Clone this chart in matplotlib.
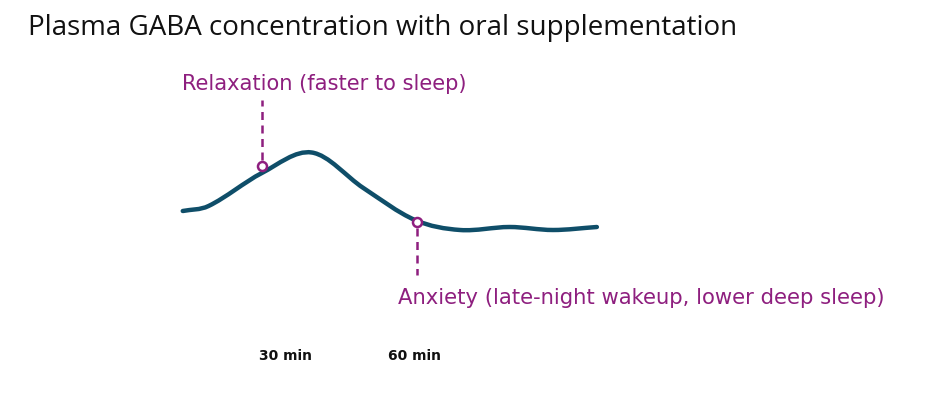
import matplotlib
matplotlib.use("Agg")
import matplotlib.pyplot as plt
from matplotlib.path import Path
from matplotlib.patches import PathPatch
import numpy as np

# Data (time in minutes, relative plasma GABA level)
time_min = [6.0, 12.0, 24.4, 36.0, 48.0, 60.0, 70.5, 82.0, 92.1, 102.3]
gaba_level = [4.9, 5.4, 8.7, 10.75, 7.2, 4.0, 3.0, 3.3, 3.0, 3.3]
tick_positions = [30, 60]
tick_labels = ["30 min", "60 min"]
relax_time, relax_level = 24.4, 9.4
anx_time, anx_level = 60.5, 3.8
title = "Plasma GABA concentration with oral supplementation"
relax_label = "Relaxation (faster to sleep)"
anx_label = "Anxiety (late-night wakeup, lower deep sleep)"

LINE = "#0f4e69"
PURPLE = "#8e1f7f"

fig = plt.figure(figsize=(9.37, 3.93), dpi=100)
ax = fig.add_axes([0, 0, 1, 1])
ax.set_xlim(-36.5, 181.4)
ax.set_ylim(-13.3, 26)
ax.axis("off")

# smooth curve through read points (cubic Hermite in x -> Bezier segments)
x = np.asarray(time_min, float)
y = np.asarray(gaba_level, float)
n = len(x)
m = np.empty(n)
m[0] = (y[1] - y[0]) / (x[1] - x[0])
m[-1] = (y[-1] - y[-2]) / (x[-1] - x[-2])
for i in range(1, n - 1):
    m[i] = (y[i + 1] - y[i - 1]) / (x[i + 1] - x[i - 1])
verts = [(x[0], y[0])]
codes = [Path.MOVETO]
for i in range(n - 1):
    d = (x[i + 1] - x[i]) / 3
    verts += [(x[i] + d, y[i] + m[i] * d), (x[i + 1] - d, y[i + 1] - m[i + 1] * d),
              (x[i + 1], y[i + 1])]
    codes += [Path.CURVE4] * 3
ax.add_patch(PathPatch(Path(verts, codes), facecolor="none", edgecolor=LINE,
                       lw=3.2, capstyle="round", joinstyle="round", zorder=2))

# annotation lines
ax.plot([relax_time, relax_time], [relax_level + 0.6, 16.0], color=PURPLE,
        lw=1.8, ls=(0, (3.2, 2.2)), zorder=1)
ax.plot([anx_time, anx_time], [anx_level - 0.6, -1.5], color=PURPLE,
        lw=1.8, ls=(0, (3.2, 2.2)), zorder=1)
ax.plot([relax_time, anx_time], [relax_level, anx_level], ls="none",
        marker="o", ms=6.5, mfc="white", mec=PURPLE, mew=1.8, zorder=3)

ax.text(5.8, 17.6, relax_label, color=PURPLE, fontsize=15.1, family="DejaVu Sans",
        va="center", ha="left")
ax.text(56.0, -3.8, anx_label, color=PURPLE, fontsize=15.2, family="DejaVu Sans",
        va="center", ha="left")

for t, lab in zip(tick_positions, tick_labels):
    ax.text(t, -9.6, lab, ha="center", va="center", fontsize=10,
            fontweight="bold", family="DejaVu Sans", color="#111111")

fig.text(28 / 937, 1 - 28 / 393, title, fontsize=20, family="Open Sans",
         va="center", ha="left", color="#111111")

fig.savefig("out.png", dpi=100, facecolor="white")
